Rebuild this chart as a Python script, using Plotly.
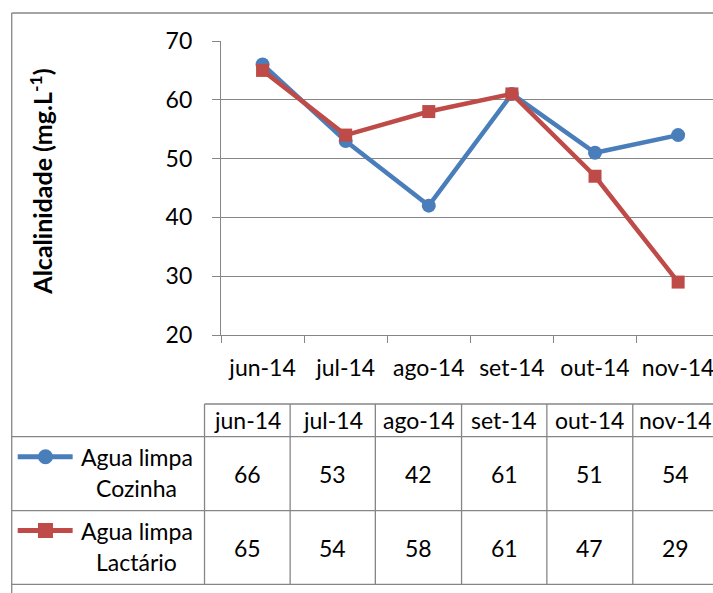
import plotly.graph_objects as go

# ---- data ----
months = ["jun-14", "jul-14", "ago-14", "set-14", "out-14", "nov-14"]
cozinha = [66, 53, 42, 61, 51, 54]
lactario = [65, 54, 58, 61, 47, 29]
series_names = [["Agua limpa", "Cozinha"], ["Agua limpa", "Lactário"]]
y_ticks = [20, 30, 40, 50, 60, 70]

BLUE = "#4A7EBB"
RED = "#BE4B48"
GRID = "#868686"
FONT = "Lato, Calibri, sans-serif"
FS = 23

W, H = 713, 593
L, R, T, B = 220.5, 0, 41, 258
PW = W - L - R
PH = H - T - B
CAT_W = 83.2

def px(x):
    return (x - L) / PW

def py(y):
    return (H - B - y) / PH

fig = go.Figure()
fig.add_trace(go.Scatter(x=months, y=cozinha, mode="lines+markers",
                         line=dict(color=BLUE, width=4.5),
                         marker=dict(symbol="circle", size=14, color=BLUE),
                         showlegend=False))
fig.add_trace(go.Scatter(x=months, y=lactario, mode="lines+markers",
                         line=dict(color=RED, width=4.5),
                         marker=dict(symbol="square", size=13, color=RED),
                         showlegend=False))

shapes = []
annotations = []

def hline(x0, x1, y, color=GRID, w=1.3):
    shapes.append(dict(type="line", xref="paper", yref="paper",
                       x0=px(x0), x1=px(x1), y0=py(y), y1=py(y),
                       line=dict(color=color, width=w)))

def vline(x, y0, y1, color=GRID, w=1.3):
    shapes.append(dict(type="line", xref="paper", yref="paper",
                       x0=px(x), x1=px(x), y0=py(y0), y1=py(y1),
                       line=dict(color=color, width=w)))

def text(x, y, s, size=FS, xanchor="center"):
    annotations.append(dict(xref="paper", yref="paper", x=px(x), y=py(y),
                            text=s, showarrow=False, xanchor=xanchor,
                            yanchor="middle",
                            font=dict(family=FONT, size=size, color="#000")))

# outer chart border
vline(11, 13, 593)
hline(11, 713, 13)

# data table grid
col_edges = [204, 289.7, 375, 461.3, 546.7, 632.7, 718.4]
hdr_top, hdr_bot, row1_bot, row2_bot = 404, 436.7, 510.7, 584.3
hline(204, 713, hdr_top)
hline(11, 713, hdr_bot)
hline(11, 713, row1_bot)
hline(11, 713, row2_bot)
for x in col_edges[:-1]:
    vline(x, hdr_top, row2_bot)

row_centers = [(hdr_bot + row1_bot) / 2, (row1_bot + row2_bot) / 2]
for i, m in enumerate(months):
    cx = (col_edges[i] + col_edges[i + 1]) / 2
    text(cx, (hdr_top + hdr_bot) / 2, m)
    text(cx, row_centers[0], str(cozinha[i]))
    text(cx, row_centers[1], str(lactario[i]))

# legend keys inside table
for k, (color, sym) in enumerate([(BLUE, "circle"), (RED, "rect")]):
    yc = row_centers[k] - 17
    hline(17, 72, yc, color=color, w=5)
    r = 7.5
    shapes.append(dict(type=sym, xref="paper", yref="paper",
                       x0=px(44.8 - r), x1=px(44.8 + r),
                       y0=py(yc + r), y1=py(yc - r),
                       fillcolor=color, line=dict(color=color, width=0)))
    text(136, yc, series_names[k][0])
    text(136, yc + 31.5, series_names[k][1])

# y-axis title
annotations.append(dict(xref="paper", yref="paper", x=px(40), y=py(182),
                        text="<b>Alcalinidade (mg.L<sup>-1</sup>)</b>",
                        showarrow=False, textangle=-90,
                        xanchor="center", yanchor="middle",
                        font=dict(family=FONT, size=25, color="#000")))

fig.update_layout(
    width=W, height=H,
    margin=dict(l=L, r=R, t=T, b=B, autoexpand=False),
    paper_bgcolor="white", plot_bgcolor="white",
    shapes=shapes, annotations=annotations,
    xaxis=dict(type="category", range=[-0.5, -0.5 + PW / CAT_W],
               tickson="boundaries", ticks="outside", ticklen=7,
               tickcolor=GRID, tickwidth=1.3,
               showline=True, linecolor=GRID, linewidth=1.3,
               showgrid=False, ticklabelstandoff=12,
               tickfont=dict(family=FONT, size=FS, color="#000")),
    yaxis=dict(range=[20, 70], tickvals=y_ticks, ticks="outside", ticklen=8,
               tickcolor=GRID, tickwidth=1.3,
               showline=True, linecolor=GRID, linewidth=1.3,
               showgrid=True, gridcolor=GRID, gridwidth=1.3,
               zeroline=False, ticklabelstandoff=15,
               tickfont=dict(family=FONT, size=FS, color="#000")),
)

fig.write_html("out.html", config={"displayModeBar": False},
               post_script="document.body.style.margin='0';document.body.style.overflow='hidden';")
